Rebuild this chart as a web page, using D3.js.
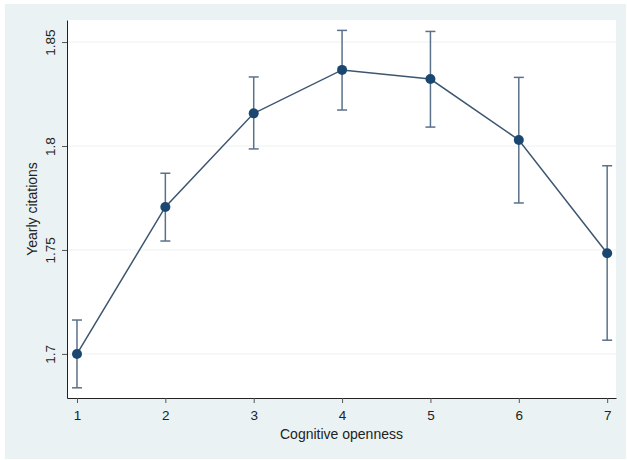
<!DOCTYPE html>
<html>
<head>
<meta charset="utf-8">
<script src="https://cdn.jsdelivr.net/npm/d3@7"></script>
<style>
  body { margin: 0; background: #ffffff; }
  svg { display: block; font-family: "Liberation Sans", Arial, sans-serif; }
</style>
</head>
<body>
<svg id="chart" width="627" height="460"></svg>
<script>
const categories = [1, 2, 3, 4, 5, 6, 7];
const means = [1.700, 1.7707, 1.8157, 1.8366, 1.8322, 1.8029, 1.7484];
const upper = [1.7163, 1.7869, 1.8332, 1.8556, 1.8551, 1.8330, 1.7905];
const lower = [1.6837, 1.7543, 1.7986, 1.8173, 1.8091, 1.7726, 1.7066];
const yTicks = [1.7, 1.75, 1.8, 1.85];
const yTickLabels = ["1.7", "1.75", "1.8", "1.85"];
const xLabel = "Cognitive openness";
const yLabel = "Yearly citations";

const svg = d3.select("#chart");

// outer background
svg.append("rect").attr("x", 5).attr("y", 4).attr("width", 621).attr("height", 455)
  .attr("fill", "#eaf2f3");

const plot = { left: 67, right: 616, top: 20, bottom: 398 };
svg.append("rect").attr("x", plot.left).attr("y", plot.top)
  .attr("width", plot.right - plot.left).attr("height", plot.bottom - plot.top)
  .attr("fill", "#ffffff");

const x = d3.scaleLinear().domain([0.887, 7.1]).range([plot.left, plot.right]);
const y = d3.scaleLinear().domain([1.6788, 1.8606]).range([plot.bottom, plot.top]);

// gridlines
svg.append("g").selectAll("line").data(yTicks).join("line")
  .attr("x1", plot.left).attr("x2", plot.right)
  .attr("y1", d => y(d)).attr("y2", d => y(d))
  .attr("stroke", "#eef1f1").attr("stroke-width", 1);

// axes
const yAxis = d3.axisLeft(y).tickValues(yTicks).tickFormat((d, i) => yTickLabels[i]).tickSize(5).tickSizeOuter(0);
const gy = svg.append("g").attr("transform", `translate(${plot.left},0)`).call(yAxis);
gy.select(".domain").attr("stroke", "#222").attr("stroke-width", 1);
gy.selectAll(".tick line").attr("stroke", "#555");
gy.selectAll(".tick text")
  .attr("font-size", 13.5).attr("fill", "#222")
  .attr("transform", "rotate(-90)")
  .attr("x", 0).attr("y", -12).attr("dy", 0)
  .attr("text-anchor", "middle");

const xAxis = d3.axisBottom(x).tickValues(categories).tickFormat(d3.format("d")).tickSize(5).tickSizeOuter(0);
const gx = svg.append("g").attr("transform", `translate(0,${plot.bottom})`).call(xAxis);
gx.select(".domain").attr("stroke", "#222").attr("stroke-width", 1);
gx.selectAll(".tick line").attr("stroke", "#555");
gx.selectAll(".tick text").attr("font-size", 13.5).attr("fill", "#222").attr("y", 12);

// axis titles
svg.append("text").attr("x", (plot.left + plot.right) / 2).attr("y", 439)
  .attr("text-anchor", "middle").attr("font-size", 14).attr("fill", "#222").text(xLabel);
svg.append("text").attr("transform", `translate(37,${(plot.top + plot.bottom) / 2}) rotate(-90)`)
  .attr("text-anchor", "middle").attr("font-size", 14).attr("fill", "#222").text(yLabel);

// error bars
const ciColor = "#5b7189";
const eg = svg.append("g");
categories.forEach((c, i) => {
  eg.append("line").attr("x1", x(c)).attr("x2", x(c)).attr("y1", y(lower[i])).attr("y2", y(upper[i]))
    .attr("stroke", ciColor).attr("stroke-width", 1.5);
  [lower[i], upper[i]].forEach(v => {
    eg.append("line").attr("x1", x(c) - 5).attr("x2", x(c) + 5).attr("y1", y(v)).attr("y2", y(v))
      .attr("stroke", ciColor).attr("stroke-width", 1.5);
  });
});

// connecting line
const line = d3.line().x((d, i) => x(categories[i])).y(d => y(d));
svg.append("path").datum(means).attr("d", line)
  .attr("fill", "none").attr("stroke", "#3d5670").attr("stroke-width", 1.5);

// points
svg.append("g").selectAll("circle").data(means).join("circle")
  .attr("cx", (d, i) => x(categories[i])).attr("cy", d => y(d)).attr("r", 5)
  .attr("fill", "#1a476f");
</script>
</body>
</html>
